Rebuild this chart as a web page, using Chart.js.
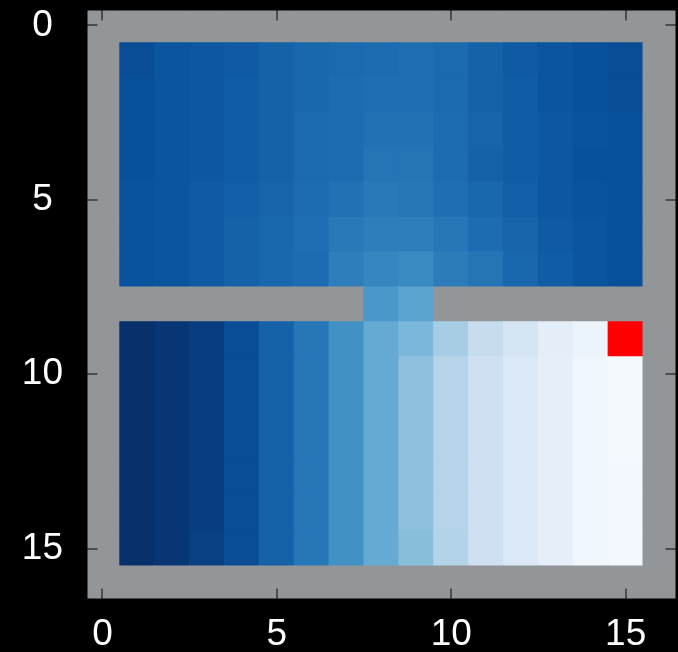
<!DOCTYPE html>
<html>
<head>
<meta charset="utf-8">
<script src="https://cdn.jsdelivr.net/npm/chart.js@4.4.1/dist/chart.umd.min.js"></script>
<style>
  html, body { margin: 0; padding: 0; background: #000; }
</style>
</head>
<body>
<canvas id="grid" width="678" height="652"></canvas>
<script>
var N = null; // wall cell

// cell values, one array per row (row 0 at the top)
var row0  = [N, N, N, N, N, N, N, N, N, N, N, N, N, N, N, N, N];
var row1  = [N, .89, .86, .85, .84, .81, .79, .78, .77, .76, .78, .81, .84, .86, .88, .89, N];
var row2  = [N, .88, .86, .85, .83, .81, .79, .77, .76, .76, .78, .81, .83, .86, .88, .89, N];
var row3  = [N, .88, .86, .85, .83, .81, .78, .77, .75, .75, .77, .80, .83, .85, .87, .88, N];
var row4  = [N, .88, .86, .85, .83, .81, .78, .77, .74, .74, .77, .81, .83, .85, .88, .88, N];
var row5  = [N, .87, .86, .84, .82, .80, .77, .75, .72, .73, .76, .79, .82, .85, .87, .88, N];
var row6  = [N, .87, .86, .84, .81, .79, .76, .72, .70, .70, .73, .77, .80, .84, .86, .88, N];
var row7  = [N, .87, .86, .84, .81, .79, .77, .70, .67, .65, .71, .74, .79, .83, .86, .88, N];
var row8  = [N, N, N, N, N, N, N, N, .60, .55, N, N, N, N, N, N, N];
var row9  = [N, 1.0, .98, .95, .89, .81, .73, .63, .52, .46, .35, .24, .17, .10, .055, 0, N];
var row10 = [N, 1.0, .98, .95, .89, .81, .73, .63, .52, .42, .30, .21, .14, .09, .04, .015, N];
var row11 = [N, 1.0, .98, .95, .89, .81, .73, .63, .52, .42, .30, .21, .14, .09, .04, .015, N];
var row12 = [N, 1.0, .98, .95, .89, .81, .73, .63, .52, .42, .30, .21, .14, .09, .04, .015, N];
var row13 = [N, 1.0, .98, .95, .89, .81, .73, .63, .52, .42, .30, .21, .14, .09, .04, .02, N];
var row14 = [N, 1.0, .98, .95, .89, .81, .73, .63, .52, .42, .30, .21, .14, .09, .04, .02, N];
var row15 = [N, 1.0, .98, .94, .89, .81, .73, .63, .52, .43, .31, .21, .14, .09, .04, .02, N];
var row16 = [N, N, N, N, N, N, N, N, N, N, N, N, N, N, N, N, N];
var rows = [row0, row1, row2, row3, row4, row5, row6, row7, row8,
            row9, row10, row11, row12, row13, row14, row15, row16];

var goal = { x: 15, y: 9 };
var xTicks = [0, 5, 10, 15];
var yTicks = [0, 5, 10, 15];

// matplotlib "Blues"
var bluesStops = ['#f7fbff', '#deebf7', '#c6dbef', '#9ecae1', '#6baed6',
                  '#4292c6', '#2171b5', '#08519c', '#08306b'];
var wallColor = '#939699';
var goalColor = '#ff0000';

function hexRgb(h) {
    return [parseInt(h.substr(1, 2), 16), parseInt(h.substr(3, 2), 16), parseInt(h.substr(5, 2), 16)];
}
function blues(t) {
    t = Math.max(0, Math.min(1, t));
    var p = t * (bluesStops.length - 1);
    var i = Math.min(Math.floor(p), bluesStops.length - 2);
    var f = p - i;
    var a = hexRgb(bluesStops[i]), b = hexRgb(bluesStops[i + 1]);
    return 'rgb(' + [0, 1, 2].map(function(k) { return Math.round(a[k] + (b[k] - a[k]) * f); }).join(',') + ')';
}

var cells = [];
rows.forEach(function(row, y) {
    row.forEach(function(v, x) {
        cells.push({ x: x, y: [y - 0.5, y + 0.5], v: v });
    });
});

function cellColor(c) {
    var d = c.raw;
    if (!d) return wallColor;
    if (d.x === goal.x && d.y[0] + 0.5 === goal.y) return goalColor;
    if (d.v === null) return wallColor;
    return blues(d.v);
}

// gray under the cells so no seams show, then inward ticks and the black frame
var frameTicks = {
    id: 'frameTicks',
    beforeDatasetsDraw: function(chart) {
        var ctx = chart.ctx, a = chart.chartArea;
        ctx.save();
        ctx.fillStyle = wallColor;
        ctx.fillRect(a.left, a.top, a.right - a.left, a.bottom - a.top);
        ctx.restore();
    },
    afterDatasetsDraw: function(chart) {
        var ctx = chart.ctx, a = chart.chartArea;
        var xs = chart.scales.x, ys = chart.scales.y;
        var len = 12.5;
        ctx.save();
        ctx.strokeStyle = '#4b4e51';
        ctx.lineWidth = 2;
        ctx.beginPath();
        xTicks.forEach(function(v) {
            var px = Math.round(xs.getPixelForValue(v));
            ctx.moveTo(px, a.bottom); ctx.lineTo(px, a.bottom - len);
            ctx.moveTo(px, a.top); ctx.lineTo(px, a.top + len);
        });
        yTicks.forEach(function(v) {
            var py = Math.round(ys.getPixelForValue(v));
            ctx.moveTo(a.left, py); ctx.lineTo(a.left + len, py);
            ctx.moveTo(a.right, py); ctx.lineTo(a.right - len, py);
        });
        ctx.stroke();
        ctx.strokeStyle = '#000';
        ctx.lineWidth = 5;
        ctx.strokeRect(a.left, a.top, a.right - a.left, a.bottom - a.top);
        ctx.restore();
    }
};

var labelFont = { family: '"Liberation Sans", Arial, sans-serif', size: 37 };

new Chart(document.getElementById('grid'), {
    type: 'bar',
    data: {
        datasets: [{
            data: cells,
            backgroundColor: cellColor,
            borderWidth: 0,
            inflateAmount: 0.6,
            barPercentage: 1,
            categoryPercentage: 1
        }]
    },
    options: {
        responsive: false,
        animation: false,
        layout: { padding: { top: 8, right: 0, left: 0, bottom: 0 } },
        plugins: { legend: { display: false }, tooltip: { enabled: false } },
        scales: {
            x: {
                type: 'linear',
                min: -0.5,
                max: 16.5,
                offset: false,
                grid: { display: false },
                border: { display: false },
                afterBuildTicks: function(s) { s.ticks = xTicks.map(function(v) { return { value: v }; }); },
                afterFit: function(s) { s.height = 51; s.paddingLeft = 0; s.paddingRight = 0; },
                ticks: { color: '#fff', font: labelFont, padding: 4, maxRotation: 0, autoSkip: false }
            },
            y: {
                type: 'linear',
                reverse: true,
                min: -0.5,
                max: 16.5,
                grid: { display: false },
                border: { display: false },
                afterBuildTicks: function(s) { s.ticks = yTicks.map(function(v) { return { value: v }; }); },
                afterFit: function(s) { s.width = 85; s.paddingTop = 0; s.paddingBottom = 0; },
                ticks: { color: '#fff', font: labelFont, padding: 14, crossAlign: 'center', autoSkip: false }
            }
        }
    },
    plugins: [frameTicks]
});
</script>
</body>
</html>
